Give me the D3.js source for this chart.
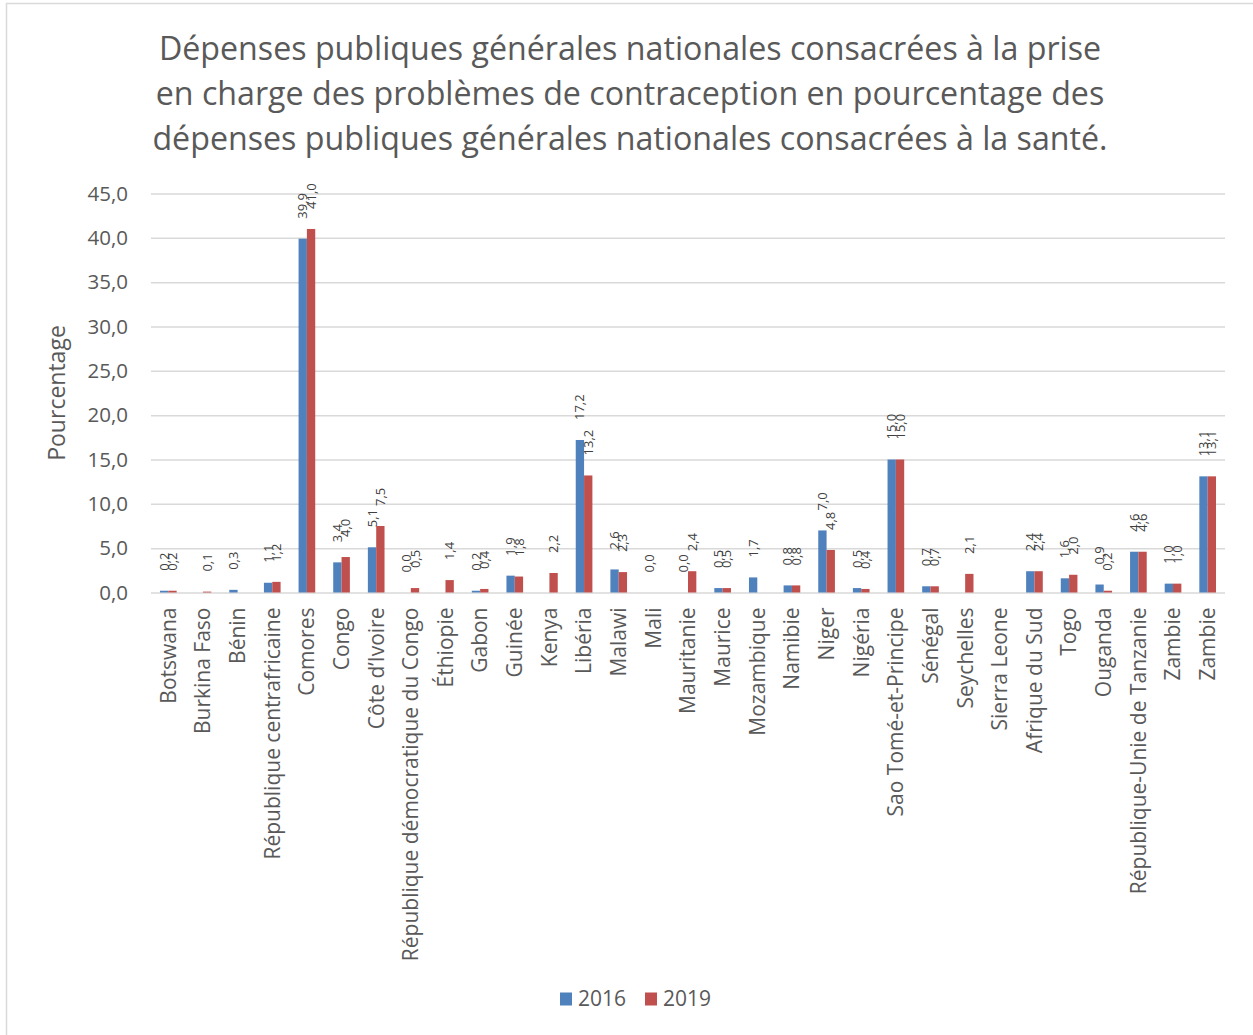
<!DOCTYPE html>
<html>
<head>
<meta charset="utf-8">
<script src="https://cdn.jsdelivr.net/npm/d3@7/dist/d3.min.js"></script>
<style>
  body { margin: 0; background: #fff; }
  svg { display: block; }
  text { font-family: "Open Sans", "Liberation Sans", sans-serif; }
</style>
</head>
<body>
<svg id="chart" width="1253" height="1035"></svg>
<script>
// Countries shown along the x axis
const categories = [
  "Botswana", "Burkina Faso", "Bénin", "République centrafricaine", "Comores",
  "Congo", "Côte d’Ivoire", "République démocratique du Congo", "Éthiopie", "Gabon",
  "Guinée", "Kenya", "Libéria", "Malawi", "Mali", "Mauritanie", "Maurice",
  "Mozambique", "Namibie", "Niger", "Nigéria", "Sao Tomé-et-Principe", "Sénégal",
  "Seychelles", "Sierra Leone", "Afrique du Sud", "Togo", "Ouganda",
  "République-Unie de Tanzanie", "Zambie", "Zambie"
];

// Share of contraception spending (%), null where no figure is reported
const values2016 = [
  0.2, null, 0.3, 1.1, 39.9, 3.4, 5.1, 0.0, null, 0.2,
  1.9, null, 17.2, 2.6, 0.0, 0.0, 0.5, 1.7, 0.8, 7.0,
  0.5, 15.0, 0.7, null, null, 2.4, 1.6, 0.9, 4.6, 1.0, 13.1
];
const values2019 = [
  0.2, 0.1, null, 1.2, 41.0, 4.0, 7.5, 0.5, 1.4, 0.4,
  1.8, 2.2, 13.2, 2.3, null, 2.4, 0.5, null, 0.8, 4.8,
  0.4, 15.0, 0.7, 2.1, null, 2.4, 2.0, 0.2, 4.6, 1.0, 13.1
];

const seriesNames = ["2016", "2019"];
const seriesColors = ["#4f81bd", "#c0504d"];
const yTicks = [0, 5, 10, 15, 20, 25, 30, 35, 40, 45];
const titleLines = [
  "Dépenses publiques générales nationales consacrées à la prise",
  "en charge des problèmes de contraception en pourcentage des",
  "dépenses publiques générales nationales consacrées à la santé."
];
const yTitle = "Pourcentage";

const svg = d3.select("#chart");
const W = 1253, H = 1035;
const plot = { left: 151, right: 1225, top: 193.5, bottom: 592.5 };
const textColor = "#595959";
const fmt = v => v.toFixed(1).replace(".", ",");

// outer chart frame
svg.append("rect")
  .attr("x", 6.5).attr("y", 3.5)
  .attr("width", W + 20).attr("height", H + 20)
  .attr("fill", "#fff").attr("stroke", "#d9d9d9").attr("stroke-width", 1.5);

// title
svg.append("g").selectAll("text")
  .data(titleLines).join("text")
  .attr("x", 630).attr("y", (d, i) => 60 + i * 45)
  .attr("text-anchor", "middle")
  .attr("font-size", 32.2)
  .attr("fill", textColor)
  .text(d => d);

const x = d3.scaleBand()
  .domain(d3.range(categories.length))
  .range([plot.left, plot.right])
  .paddingInner(0).paddingOuter(0);

const xSub = d3.scaleBand()
  .domain(seriesNames)
  .range([0, x.bandwidth()])
  .paddingInner(0).paddingOuter(1.08);

const y = d3.scaleLinear().domain([0, 45]).range([plot.bottom, plot.top]);

// horizontal gridlines and y tick labels
const yAxis = d3.axisLeft(y)
  .tickValues(yTicks)
  .tickSize(-(plot.right - plot.left))
  .tickPadding(23)
  .tickFormat(fmt);
const gy = svg.append("g")
  .attr("transform", `translate(${plot.left},0)`)
  .call(yAxis);
gy.select(".domain").remove();
gy.selectAll(".tick line").attr("stroke", "#d9d9d9").attr("stroke-width", 1.5);
gy.selectAll(".tick text")
  .attr("font-size", 20.5).attr("fill", textColor)
  .attr("font-family", "\"Open Sans\", sans-serif");

// y axis title
svg.append("text")
  .attr("transform", `translate(65,${(plot.top + plot.bottom) / 2}) rotate(-90)`)
  .attr("text-anchor", "middle")
  .attr("font-size", 23)
  .attr("fill", textColor)
  .text(yTitle);

// bars
const series = [values2016, values2019];
const bars = svg.append("g");
series.forEach((vals, si) => {
  const name = seriesNames[si];
  const pts = vals.map((v, i) => ({ i, v })).filter(d => d.v !== null);
  bars.append("g").selectAll("rect")
    .data(pts).join("rect")
    .attr("x", d => x(d.i) + xSub(name))
    .attr("width", xSub.bandwidth())
    .attr("y", d => y(d.v))
    .attr("height", d => y(0) - y(d.v))
    .attr("fill", seriesColors[si]);

  // value labels, rotated above each bar
  bars.append("g").selectAll("text")
    .data(pts).join("text")
    .attr("transform", d =>
      `translate(${x(d.i) + xSub(name) + xSub.bandwidth() / 2},${y(d.v) - 20}) rotate(-90)`)
    .attr("dy", "0.35em")
    .attr("font-size", 13)
    .attr("fill", "#404040")
    .text(d => fmt(d.v));
});

// category labels along the x axis
const xAxis = d3.axisBottom(x)
  .tickSize(0)
  .tickPadding(0)
  .tickFormat(i => categories[i]);
const gx = svg.append("g")
  .attr("transform", `translate(0,${plot.bottom})`)
  .call(xAxis);
gx.select(".domain").remove();
gx.selectAll(".tick text")
  .attr("font-size", 21)
  .attr("fill", textColor)
  .attr("font-family", "\"Open Sans\", sans-serif")
  .attr("text-anchor", "end")
  .attr("transform", "translate(0,15) rotate(-90)")
  .attr("x", 0).attr("y", 0).attr("dy", "0.35em");

// legend
const legend = svg.append("g").attr("transform", "translate(560,999)");
const legendItems = legend.selectAll("g")
  .data(seriesNames).join("g")
  .attr("transform", (d, i) => `translate(${i * 85},0)`);
legendItems.append("rect")
  .attr("x", 0).attr("y", -6.5).attr("width", 12).attr("height", 13)
  .attr("fill", (d, i) => seriesColors[i]);
legendItems.append("text")
  .attr("x", 18).attr("y", 0).attr("dy", "0.35em")
  .attr("font-size", 21).attr("fill", textColor)
  .text(d => d);
</script>
</body>
</html>
